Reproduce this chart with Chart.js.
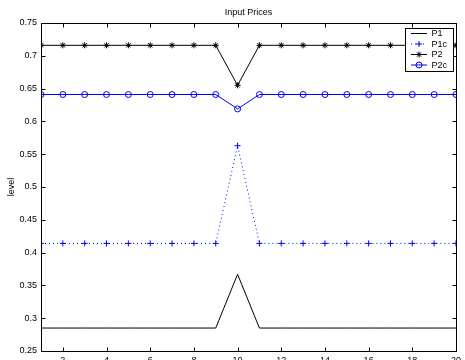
<!DOCTYPE html>
<html>
<head>
<meta charset="utf-8">
<script src="https://cdn.jsdelivr.net/npm/chart.js@4/dist/chart.umd.min.js"></script>
<style>
  html, body { margin: 0; padding: 0; background: #fff; overflow: hidden; }
  #wrap { width: 465px; height: 372px; }
</style>
</head>
<body>
<div id="wrap"><canvas id="c" width="465" height="372"></canvas></div>
<script>
// values
const steps = [1,2,3,4,5,6,7,8,9,10,11,12,13,14,15,16,17,18,19,20];
const p1  = [0.285,0.285,0.285,0.285,0.285,0.285,0.285,0.285,0.285,0.367,0.285,0.285,0.285,0.285,0.285,0.285,0.285,0.285,0.285,0.285];
const p1c = [0.414,0.414,0.414,0.414,0.414,0.414,0.414,0.414,0.414,0.563,0.414,0.414,0.414,0.414,0.414,0.414,0.414,0.414,0.414,0.414];
const p2  = [0.716,0.716,0.716,0.716,0.716,0.716,0.716,0.716,0.716,0.655,0.716,0.716,0.716,0.716,0.716,0.716,0.716,0.716,0.716,0.716];
const p2c = [0.641,0.641,0.641,0.641,0.641,0.641,0.641,0.641,0.641,0.619,0.641,0.641,0.641,0.641,0.641,0.641,0.641,0.641,0.641,0.641];
const xTicks = [2,4,6,8,10,12,14,16,18,20];
const yTicks = [0.25,0.3,0.35,0.4,0.45,0.5,0.55,0.6,0.65,0.7,0.75];
const titleText = 'Input Prices';
const yTitle = 'level';

const FONT = 'Liberation Sans, Arial, Helvetica, sans-serif';

function pts(arr){ return arr.map((v,i)=>({x:steps[i], y:v})); }

// matlab marker drawn by hand for the legend
function marker(ctx, style, r, x, y){
  ctx.beginPath();
  if (style === 'circle') {
    ctx.arc(x, y, r, 0, Math.PI*2);
  } else {
    ctx.moveTo(x-r,y); ctx.lineTo(x+r,y);
    ctx.moveTo(x,y-r); ctx.lineTo(x,y+r);
    if (style === 'star') {
      const d = r*0.707;
      ctx.moveTo(x-d,y-d); ctx.lineTo(x+d,y+d);
      ctx.moveTo(x-d,y+d); ctx.lineTo(x+d,y-d);
    }
  }
  ctx.stroke();
}

// frame, inward ticks, title and legend, matlab style
const matlabBox = {
  id: 'matlabBox',
  afterDraw(chart){
    const ctx = chart.ctx, a = chart.chartArea;
    const xs = chart.scales.x, ys = chart.scales.y;
    const L = Math.round(a.left)+0.5, R = Math.round(a.right)+0.5;
    const T = Math.round(a.top)+0.5, B = Math.round(a.bottom)+0.5;
    ctx.save();
    ctx.strokeStyle = '#000';
    ctx.lineWidth = 1;
    ctx.strokeRect(L, T, R-L, B-T);
    ctx.beginPath();
    xTicks.forEach(v=>{
      const px = Math.round(xs.getPixelForValue(v))+0.5;
      ctx.moveTo(px,B); ctx.lineTo(px,B-4);
      ctx.moveTo(px,T); ctx.lineTo(px,T+4);
    });
    yTicks.forEach(v=>{
      const py = Math.round(ys.getPixelForValue(v))+0.5;
      ctx.moveTo(L,py); ctx.lineTo(L+4,py);
      ctx.moveTo(R,py); ctx.lineTo(R-4,py);
    });
    ctx.stroke();

    // title centred over the axes
    ctx.fillStyle = '#000';
    ctx.font = '9px ' + FONT;
    ctx.textAlign = 'center';
    ctx.textBaseline = 'middle';
    ctx.fillText(titleText, (a.left+a.right)/2, 12.5);

    // legend
    const bx = 405.5, by = 28.5, bw = 48, bh = 43;
    ctx.fillStyle = '#fff';
    ctx.fillRect(bx, by, bw, bh);
    ctx.strokeStyle = '#000';
    ctx.strokeRect(bx, by, bw, bh);
    const rowY = [33.5, 44, 54.5, 65];
    chart.data.datasets.forEach((ds,i)=>{
      const y = rowY[i];
      ctx.save();
      ctx.strokeStyle = ds.borderColor;
      ctx.lineWidth = 1;
      ctx.setLineDash(ds.borderDash || []);
      ctx.beginPath();
      ctx.moveTo(411, y); ctx.lineTo(427, y);
      ctx.stroke();
      ctx.restore();
      if (ds.pointRadius > 0) {
        ctx.strokeStyle = ds.pointBorderColor;
        ctx.lineWidth = 1;
        marker(ctx, ds.pointStyle, ds.pointRadius, 419, y);
      }
      ctx.fillStyle = '#000';
      ctx.font = '9px ' + FONT;
      ctx.textAlign = 'left';
      ctx.textBaseline = 'middle';
      ctx.fillText(ds.label, 431.5, y+0.5);
    });
    ctx.restore();
  }
};

new Chart(document.getElementById('c'), {
  type: 'line',
  data: {
    datasets: [
      { label:'P1',  data: pts(p1),  borderColor:'#000', borderWidth:1, pointRadius:0, fill:false },
      { label:'P1c', data: pts(p1c), borderColor:'#0000ff', borderWidth:1, borderDash:[1,3],
        pointStyle:'cross', pointRadius:3, pointBorderColor:'#0000ff', pointBackgroundColor:'#0000ff', pointBorderWidth:1, fill:false },
      { label:'P2',  data: pts(p2),  borderColor:'#000', borderWidth:1,
        pointStyle:'star', pointRadius:3, pointBorderColor:'#000', pointBackgroundColor:'#000', pointBorderWidth:1, fill:false },
      { label:'P2c', data: pts(p2c), borderColor:'#0000ff', borderWidth:1,
        pointStyle:'circle', pointRadius:3, pointBorderColor:'#0000ff', pointBackgroundColor:'rgba(0,0,0,0)', pointBorderWidth:1, fill:false }
    ]
  },
  options: {
    responsive: false,
    animation: false,
    events: [],
    layout: { padding: { top: 23, right: 8, left: 0, bottom: 0 } },
    plugins: { legend: { display:false }, title: { display:false }, tooltip: { enabled:false } },
    scales: {
      x: {
        type: 'linear', min: 1, max: 20,
        afterBuildTicks: s => { s.ticks = xTicks.map(v=>({value:v})); },
        afterFit: s => { s.height = 21; },
        grid: { display:false, drawTicks:false },
        border: { display:false },
        ticks: { font:{ family:FONT, size:9 }, color:'#000', padding:4, maxRotation:0, autoSkip:false }
      },
      y: {
        min: 0.25, max: 0.75,
        afterBuildTicks: s => { s.ticks = yTicks.map(v=>({value:v})); },
        afterFit: s => { s.width = 41; },
        grid: { display:false, drawTicks:false },
        border: { display:false },
        title: { display:true, text:yTitle, font:{ family:FONT, size:9 }, color:'#000', padding:{ top:6.5, bottom:0 } },
        ticks: { font:{ family:FONT, size:9 }, color:'#000', padding:4, autoSkip:false,
          callback: v => String(parseFloat(v.toFixed(2))) }
      }
    }
  },
  plugins: [matlabBox]
});
</script>
</body>
</html>
